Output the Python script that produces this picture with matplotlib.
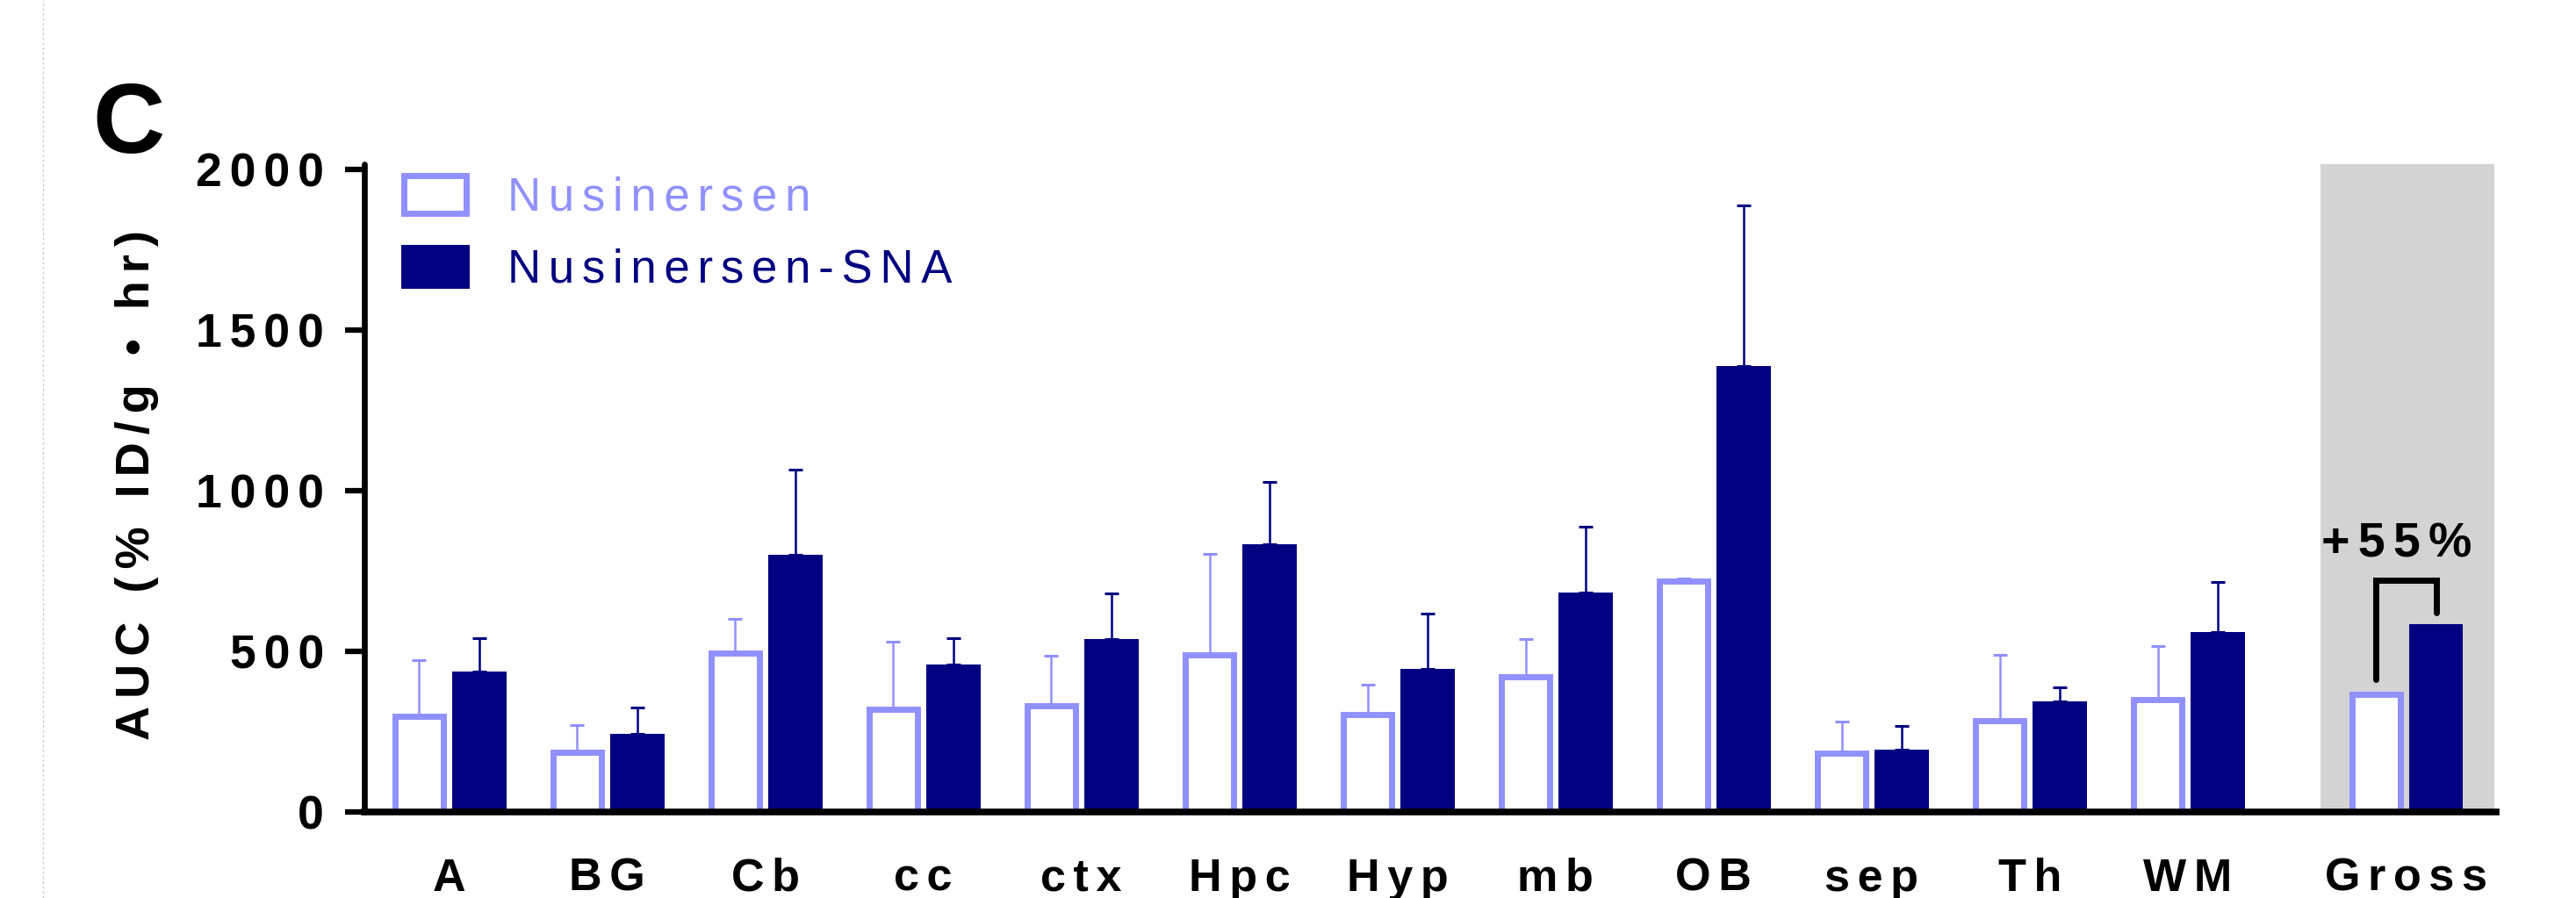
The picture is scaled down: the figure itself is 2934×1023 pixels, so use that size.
import numpy as np
import matplotlib
matplotlib.use("Agg")
import matplotlib.pyplot as plt
from matplotlib.patches import Patch
from matplotlib.lines import Line2D

plt.rcParams['font.family'] = ['Liberation Sans', 'DejaVu Sans']

# brain regions, last one is the whole-brain summary
regions = ["A", "BG", "Cb", "cc", "ctx", "Hpc", "Hyp", "mb", "OB", "sep", "Th", "WM", "Gross"]

# AUC (% ID/g * hr), mean and upper error
nus_mean = [298, 186, 495, 321, 332, 490, 305, 423, 720, 183, 286, 350, 368]
nus_err = [176, 86, 107, 211, 154, 314, 91, 115, 8, 99, 204, 166, 0]
sna_mean = [437, 243, 802, 460, 538, 833, 445, 685, 1387, 195, 346, 560, 585]
sna_err = [104, 82, 263, 81, 144, 196, 172, 203, 501, 75, 42, 156, 0]

y_ticks = [0, 500, 1000, 1500, 2000]
gain_label = "+55%"

NUS = "#9090FF"
SNA = "#000080"
SP = "\u2006"  # letter spacing, the original uses tracked text


def spaced(s):
    return SP.join(s)


x = np.arange(len(regions), dtype=float)
x[-1] += 0.38  # extra gap before the summary group
off = 0.19

fig = plt.figure(figsize=(29.34, 10.23), dpi=100)
ax = fig.add_axes([0.14145, 0.09531, 0.82754, 0.72190])

# grey backdrop behind the Gross group
ax.axvspan(x[-1] - 0.54, x[-1] + 0.56, color="#D3D3D3", lw=0, zorder=0)

ax.bar(x - off, nus_mean, width=0.304, facecolor="white", edgecolor=NUS, linewidth=5, zorder=1)
ax.bar(x + off, sna_mean, width=0.343, facecolor=SNA, edgecolor="none", zorder=1)

# upper error bars only, none for Gross
n = len(regions) - 1
ax.errorbar(x[:n] - off, nus_mean[:n], yerr=[np.zeros(n), nus_err[:n]], fmt="none",
            ecolor=NUS, elinewidth=1.8, capsize=5.5, capthick=2.2, zorder=2)
ax.errorbar(x[:n] + off, sna_mean[:n], yerr=[np.zeros(n), sna_err[:n]], fmt="none",
            ecolor=SNA, elinewidth=1.8, capsize=5.5, capthick=2.2, zorder=2)

# bracket + label over the Gross pair
xl, xr = x[-1] - off, x[-1] + off
ax.plot([xl, xl, xr, xr], [nus_mean[-1] + 46, 723, 723, sna_mean[-1] + 37],
        color="black", lw=5, solid_capstyle="round", solid_joinstyle="miter", zorder=3)
ax.text(x[-1] - 0.06, 832, spaced(gain_label), ha="center", va="center",
        fontsize=40, fontweight="bold")

ax.set_xlim(-0.536, 12.95)
ax.set_ylim(0, 2016)
ax.set_yticks(y_ticks, [spaced(str(t)) for t in y_ticks], fontsize=38.5, fontweight="bold")
ax.set_xticks(x, [spaced(r) for r in regions], fontsize=37.5, fontweight="bold")
ax.tick_params(axis="y", direction="out", length=16, width=4.5, pad=17)
ax.tick_params(axis="x", length=0, pad=37)

for s in ["top", "right"]:
    ax.spines[s].set_visible(False)
ax.spines["left"].set_linewidth(4.8)
ax.spines["bottom"].set_linewidth(5.5)
ax.spines["left"].set_capstyle("round")

ax.set_ylabel(spaced("AUC (% ID/g \u2022 hr)"), fontsize=39, fontweight="bold")
ax.yaxis.set_label_coords(-0.0965, 0.505)

handles = [Patch(facecolor="white", edgecolor=NUS, linewidth=5),
           Patch(facecolor=SNA, edgecolor=SNA, linewidth=5)]
leg = ax.legend(handles, [spaced("Nusinersen"), spaced("Nusinersen-SNA")],
                loc="upper left", bbox_to_anchor=(0.01853, 0.983), frameon=False,
                fontsize=38, handlelength=1.345, handleheight=0.88, handletextpad=0.9,
                labelspacing=0.6, borderpad=0, borderaxespad=0)
for t, c in zip(leg.get_texts(), [NUS, SNA]):
    t.set_color(c)

# panel letter and the faint page edge on the left
fig.text(0.0498, 0.858, "C", fontsize=82, fontweight="bold", ha="center", va="center")
fig.add_artist(Line2D([49 / 2934, 49 / 2934], [0, 1], transform=fig.transFigure,
                      color="#CCCCCC", lw=1, ls=(0, (2, 2))))

fig.savefig("out.png", dpi=100)
